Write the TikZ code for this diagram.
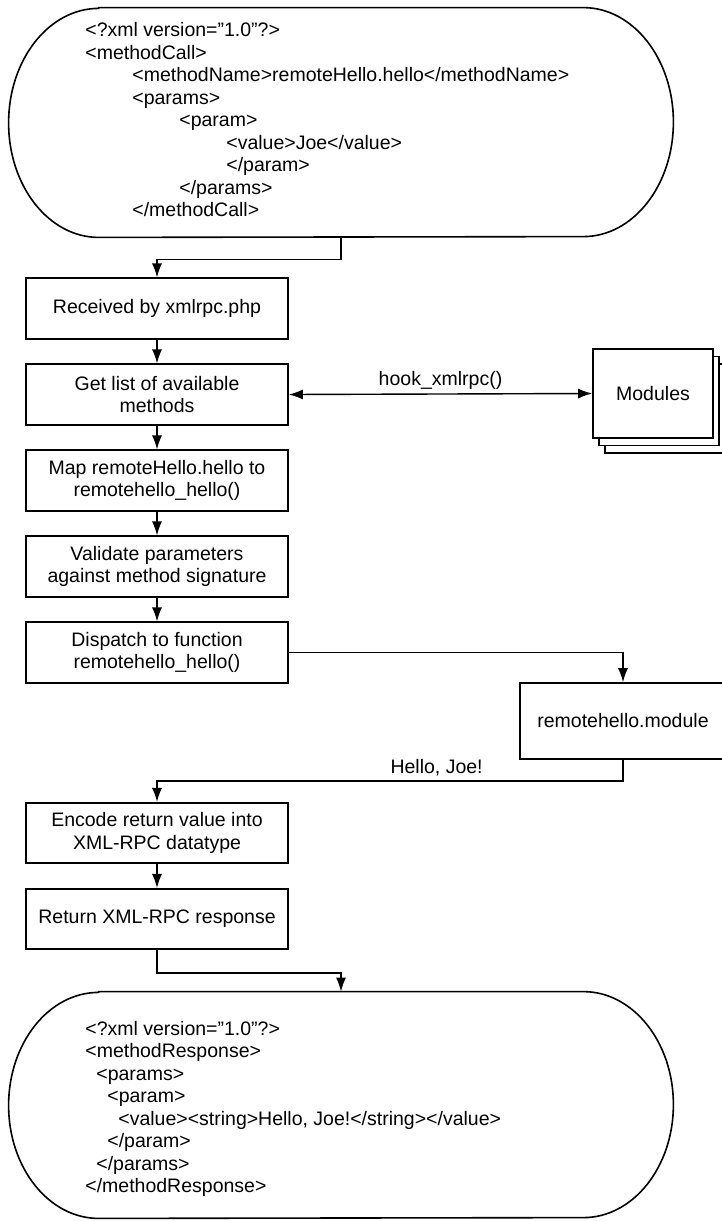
\documentclass[tikz,border=0pt]{standalone}
\usepackage{fontspec}
\setmainfont{Liberation Sans}
\usepackage{tikz}
\usetikzlibrary{arrows.meta, positioning, shadows}
\tikzset{
    stepbox/.style={rectangle, minimum width=131pt, minimum height=30.25pt, align=center, draw=black, line width=0.8pt, inner sep=2pt},
    modbox/.style={rectangle, minimum width=60pt, minimum height=44.5pt, draw=black, fill=white, line width=0.8pt, double copy shadow={shadow xshift=3pt, shadow yshift=-3.75pt}},
    modulebox/.style={rectangle, minimum width=103pt, minimum height=38pt, draw=black, line width=0.8pt},
    xmlshell/.style={rectangle, minimum width=332pt, inner sep=0pt},
    xmltext/.style={anchor=west, align=left, inner sep=0pt},
    outline/.style={draw=black, line width=0.8pt},
    arrow/.style={line width=0.7pt, -{Latex[length=7pt, width=5pt]}},
    biarrow/.style={line width=0.7pt, {Latex[length=7pt, width=5pt]}-{Latex[length=7pt, width=5pt]}},
    lbl/.style={inner sep=2pt}
}

\begin{document}
\begin{tikzpicture}[x=0.5pt, y=0.5pt, node distance=43pt, font=\fontsize{9.75}{11.25}\selectfont]
    \useasboundingbox (0,0) rectangle (722,-1221);

    % request
    \node (req) [xmlshell, minimum height=114.5pt] at (341,-122.5) {};
    \draw [outline] ([xshift=45pt]req.north west) -- ([xshift=-45pt]req.north east)
        arc[start angle=90, end angle=-90, x radius=45pt, y radius=57.25pt]
        -- ([xshift=45pt]req.south west)
        arc[start angle=270, end angle=90, x radius=45pt, y radius=57.25pt] -- cycle;
    \node (reqtext) [xmltext] at (85,-120) {<?xml version="1.0"?>\\
        <methodCall>\\
        \hspace*{23.5pt}<methodName>remoteHello.hello</methodName>\\
        \hspace*{23.5pt}<params>\\
        \hspace*{47pt}<param>\\
        \hspace*{70.5pt}<value>Joe</value>\\
        \hspace*{70.5pt}</param>\\
        \hspace*{47pt}</params>\\
        \hspace*{23.5pt}</methodCall>};

    % steps
    \node (recv) [stepbox] at (157,-308.5) {Received by xmlrpc.php};
    \node (getlist) [stepbox, below of=recv] {Get list of available\\methods};
    \node (map) [stepbox, below of=getlist] {Map remoteHello.hello to\\remotehello\_hello()};
    \node (validate) [stepbox, below of=map] {Validate parameters\\against method signature};
    \node (dispatch) [stepbox, below of=validate] {Dispatch to function\\remotehello\_hello()};
    \node (encode) [stepbox, below of=dispatch, yshift=-47.25pt] {Encode return value into\\XML-RPC datatype};
    \node (ret) [stepbox, below of=encode] {Return XML-RPC response};

    \node (modules) [modbox] at (653,-393.5) {Modules};
    \node (module) [modulebox] at (623,-721) {remotehello.module};

    % response
    \node (resp) [xmlshell, minimum height=113pt] at (341,-1105) {};
    \draw [outline] ([xshift=45pt]resp.north west) -- ([xshift=-45pt]resp.north east)
        arc[start angle=90, end angle=-90, x radius=45pt, y radius=56.5pt]
        -- ([xshift=45pt]resp.south west)
        arc[start angle=270, end angle=90, x radius=45pt, y radius=56.5pt] -- cycle;
    \node (resptext) [xmltext] at (85,-1109) {<?xml version="1.0"?>\\
        <methodResponse>\\
        \hspace*{5.5pt}<params>\\
        \hspace*{11pt}<param>\\
        \hspace*{16.5pt}<value><string>Hello, Joe!</string></value>\\
        \hspace*{11pt}</param>\\
        \hspace*{5.5pt}</params>\\
        </methodResponse>};

    \draw [arrow] (req.south) -- ++(0,-22) -| (recv.north);
    \draw [arrow] (recv) -- (getlist);
    \draw [arrow] (getlist) -- (map);
    \draw [arrow] (map) -- (validate);
    \draw [arrow] (validate) -- (dispatch);
    \draw [biarrow] (getlist.east) -- (modules.west) node [lbl, midway, above] {hook\_xmlrpc()};
    \draw [arrow] (dispatch.east) -| (module.north);
    \draw [arrow] (module.south) -- ++(0,-21) -| (encode.north) node [lbl, pos=0.2, above] {Hello, Joe!};
    \draw [arrow] (encode) -- (ret);
    \draw [arrow] (ret.south) -- ++(0,-23) -| (resp.north);
\end{tikzpicture}
\end{document}
